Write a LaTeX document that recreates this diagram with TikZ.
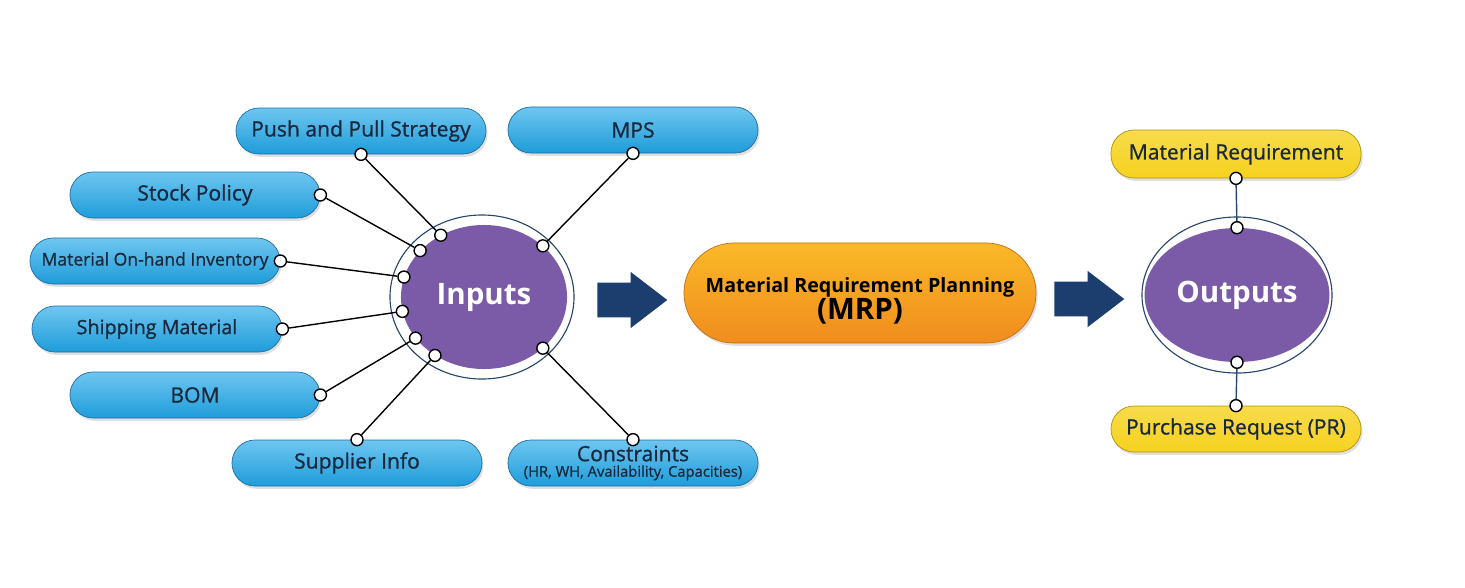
\documentclass[tikz,border=0pt]{standalone}
\usepackage{fontspec}
\setmainfont{Open Sans}
\newfontfamily\semifont{Open Sans}[FakeBold=0.9]
\usetikzlibrary{positioning,
  shapes.geometric,
  shapes.arrows,
  shadows
}
\definecolor{pillblue}{RGB}{30,156,218}
\definecolor{pilllight}{RGB}{110,198,240}
\definecolor{pillline}{RGB}{30,110,160}
\definecolor{mrporange}{RGB}{240,140,30}
\definecolor{mrplight}{RGB}{250,185,40}
\definecolor{outyellow}{RGB}{246,210,30}
\definecolor{ballpurple}{RGB}{123,90,168}
\definecolor{ringnavy}{RGB}{40,70,110}
\definecolor{arrownavy}{RGB}{28,62,110}
\definecolor{txtdark}{RGB}{25,40,60}

\begin{document}
\begin{tikzpicture}[x=0.025cm,y=-0.025cm,
  pill/.style={rounded corners=0.575cm, minimum width=6.25cm, minimum height=1.15cm,
    draw=pillline, line width=0.5, top color=pilllight, bottom color=pillblue,
    text=txtdark, font=\semifont\fontsize{15}{17}\selectfont,
    drop shadow={opacity=0.25, shadow xshift=0.04cm, shadow yshift=-0.07cm}},
  outpill/.style={pill, draw=outyellow!70!black, top color=outyellow!80!white,
    bottom color=outyellow},
  ring/.style={ellipse, draw=ringnavy, line width=0.8, fill=white},
  ball/.style={ellipse, fill=ballpurple, text=white, font=\bfseries\fontsize{21}{24}\selectfont},
  dot/.style={circle, draw=black, fill=white, line width=1, inner sep=0, minimum size=0.3cm},
  link/.style={black, line width=1},
  bigarrow/.style={single arrow, fill=arrownavy, inner sep=0.425cm, minimum height=1.75cm,
    single arrow head extend=0.27cm, single arrow tip angle=75}
  ]
  \useasboundingbox (0,0) rectangle (1465,587);

  % input side
  \node[ring, minimum width=4.6cm, minimum height=4.1cm] (inring) at (482,297) {};
  \node[ball, minimum width=4.15cm, minimum height=3.6cm] (inputs) at (484,297) {Inputs};

  \node[pill] (push) at (361,131) {Push and Pull Strategy};
  \node[pill] (mps) at (633,130) {MPS};
  \node[pill] (stock) at (195,195) {Stock Policy};
  \node[pill, font=\semifont\fontsize{12.5}{15}\selectfont] (onhand) at (155,261)
  {Material On-hand Inventory};
  \node[pill, font=\semifont\fontsize{14}{17}\selectfont] (ship) at (157,329) {Shipping Material};
  \node[pill] (bom) at (195,395) {BOM};
  \node[pill] (supp) at (357,463) {Supplier Info};
  \node[pill, align=center, font=\semifont\fontsize{15}{14}\selectfont] (constr) at (633,463)
  {Constraints\\[-3pt]{\fontsize{10.5}{12}\selectfont (HR, WH, Availability, Capacities)}};

  \node[dot] (pushA) at (push.south) {};
  \node[dot] (pushB) at (inputs.125) {};
  \node[dot] (mpsA) at (mps.south) {};
  \node[dot] (mpsB) at (inputs.41) {};
  \node[dot] (stockA) at (stock.east) {};
  \node[dot] (stockB) at (inputs.144) {};
  \node[dot] (onhandA) at (onhand.east) {};
  \node[dot] (onhandB) at (inputs.166) {};
  \node[dot] (shipA) at (ship.east) {};
  \node[dot] (shipB) at (inputs.190) {};
  \node[dot] (bomA) at (bom.east) {};
  \node[dot] (bomB) at (inputs.211) {};
  \node[dot] (suppA) at (supp.north) {};
  \node[dot] (suppB) at (inputs.230) {};
  \node[dot] (constrA) at (constr.north) {};
  \node[dot] (constrB) at (inputs.319) {};

  \draw[link] (pushA) -- (pushB);
  \draw[link] (mpsA) -- (mpsB);
  \draw[link] (stockA) -- (stockB);
  \draw[link] (onhandA) -- (onhandB);
  \draw[link] (shipA) -- (shipB);
  \draw[link] (bomA) -- (bomB);
  \draw[link] (suppA) -- (suppB);
  \draw[link] (constrA) -- (constrB);

  % MRP
  \node[bigarrow] (arrA) at (621,300) {};
  \node[rounded corners=1.25cm, minimum width=8.8cm, minimum height=2.5cm,
    top color=mrplight, bottom color=mrporange, draw=mrporange!80!black, line width=0.5,
    drop shadow={opacity=0.25, shadow xshift=0.04cm, shadow yshift=-0.07cm},
    label={[align=center, text=black, font=\bfseries\fontsize{14}{17}\selectfont,
      yshift=-0.2cm]center:Material Requirement Planning\\{\fontsize{21}{24}\selectfont (MRP)}}]
  (mrp) at (860,293) {};
  \node[bigarrow] (arrB) at (1078,299) {};

  % output side
  \node[ring, minimum width=4.75cm, minimum height=3.9cm] (outring) at (1237,295) {};
  \node[ball, minimum width=4.25cm, minimum height=3.35cm] (outputs) at (1237,295) {Outputs};

  \node[outpill, minimum height=1.2cm] (matreq) at (1236,154) {Material Requirement};
  \node[outpill] (pr) at (1236,429) {Purchase Request (PR)};

  \node[dot] (matreqA) at (matreq.south) {};
  \node[dot] (matreqB) at (outputs.90) {};
  \node[dot] (prA) at (pr.north) {};
  \node[dot] (prB) at (outputs.270) {};
  \draw[ringnavy, line width=1] (matreqA) -- (matreqB);
  \draw[ringnavy, line width=1] (prA) -- (prB);
\end{tikzpicture}
\end{document}
